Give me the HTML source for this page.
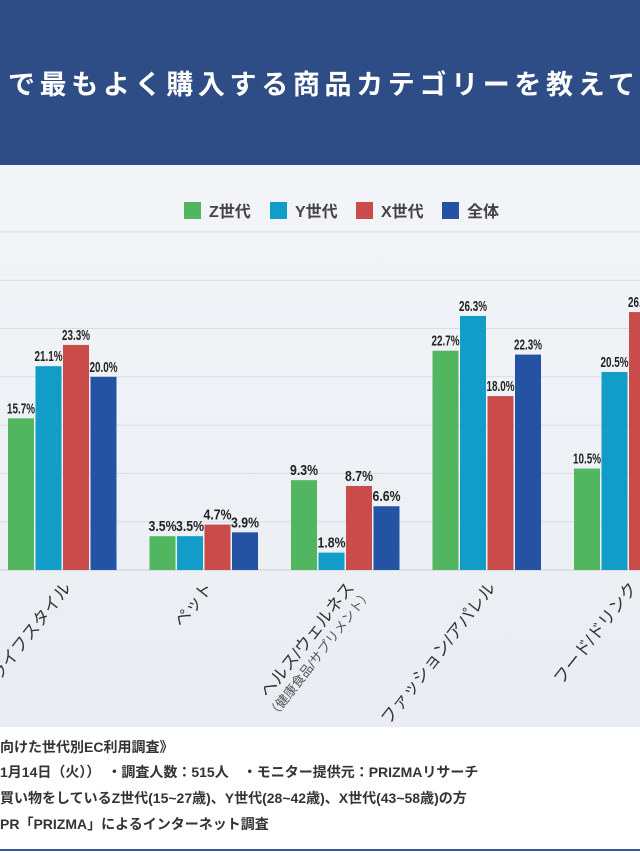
<!DOCTYPE html>
<html><head><meta charset="utf-8"><style>
html,body{margin:0;padding:0;width:640px;height:853px;overflow:hidden;background:#fff;font-family:"Liberation Sans","Noto Sans CJK JP",sans-serif}
</style></head><body>
<svg width="640" height="853" viewBox="0 0 640 853" xmlns="http://www.w3.org/2000/svg">
<defs><linearGradient id="bg" x1="0" y1="0" x2="0" y2="1"><stop offset="0" stop-color="#f3f5f8"/><stop offset="1" stop-color="#e9edf3"/></linearGradient></defs>
<rect x="0" y="0" width="640" height="165" fill="#2e4c85"/>
<text x="8" y="94" fill="#fff" font-size="27" font-weight="bold" textLength="627" lengthAdjust="spacing" font-family="'Liberation Sans','Noto Sans CJK JP',sans-serif">で最もよく購入する商品カテゴリーを教えて</text>
<rect x="0" y="165" width="640" height="562" fill="url(#bg)"/>
<g id="grid"></g>
<g id="legend"></g>
<g id="bars"></g>
<g id="xlabels"></g>
<g font-size="14" font-weight="bold" fill="#333" font-family="'Liberation Sans','Noto Sans CJK JP',sans-serif">
<text x="0" y="752">向けた世代別EC利用調査》</text>
<text x="0" y="777">1月14日（火））　・調査人数：515人　・モニター提供元：PRIZMAリサーチ</text>
<text x="0" y="803">買い物をしているZ世代(15~27歳)、Y世代(28~42歳)、X世代(43~58歳)の方</text>
<text x="0" y="829">PR「PRIZMA」によるインターネット調査</text>
</g>
<rect x="0" y="849" width="640" height="2" fill="#2e5a9e"/>
</svg>
<script>
const categories = ["ライフスタイル","ペット","ヘルス/ウェルネス","ファッション/アパレル","フード/ドリンク"];
const seriesNames = ["Z世代","Y世代","X世代","全体"];
const zValues = [15.7, 3.5, 9.3, 22.7, 10.5];
const yValues = [21.1, 3.5, 1.8, 26.3, 20.5];
const xValues = [23.3, 4.7, 8.7, 18.0, 26.7];
const allValues = [20.0, 3.9, 6.6, 22.3, 20.0];
const gridTicks = [0, 5, 10, 15, 20, 25, 30, 35];

const colors = ["#52b560","#129dc8","#c94b4a","#2553a3"];
const series = [zValues, yValues, xValues, allValues];
const NS = "http://www.w3.org/2000/svg";
const y = v => 570 - v * 9.66;
const xc = i => 62 + i * 141.5;
function mk(tag, attrs, parent){const e=document.createElementNS(NS,tag);for(const k in attrs)e.setAttribute(k,attrs[k]);parent.appendChild(e);return e;}

const grid = document.getElementById('grid');
gridTicks.forEach(t=>{
  const l = mk('line',{x1:0,x2:640,y1:y(t),y2:y(t),stroke:t===0?'#c9ced6':'#d9dde3','stroke-width':1},grid);
  
  
});

const lg = document.getElementById('legend');
const lx = [184, 270, 356, 442];
seriesNames.forEach((n,i)=>{
  const r = mk('rect',{x:lx[i],y:202,width:17,height:17,fill:colors[i]},lg);
  
  
  const t = mk('text',{x:lx[i]+25,y:217,'font-size':16,'font-weight':'bold',fill:'#444','font-family':"'Liberation Sans','Noto Sans CJK JP',sans-serif"},lg);
  t.textContent = n;
  
  
});

const bars = document.getElementById('bars');
categories.forEach((c,ci)=>{
  series.forEach((s,si)=>{
    const v = s[ci];
    const bx = xc(ci) - 54 + si*27.5;
    const r = mk('rect',{x:bx,y:y(v),width:26,height:570-y(v),fill:colors[si]},bars);
    
    
    const t = mk('text',{x:bx+13,y:y(v)-5,'text-anchor':'middle','font-size':14.5,'font-weight':'bold',fill:'#222',textLength:28,lengthAdjust:'spacingAndGlyphs','font-family':"'Liberation Sans',sans-serif"},bars);
    t.textContent = v.toFixed(1)+'%';
    
    
  });
  const xl = document.getElementById('xlabels');
  const ax = xc(ci)+10, ay = 588;
  const t = mk('text',{x:ax,y:ay,'text-anchor':'end','font-size':17,fill:'#333',transform:`rotate(-52 ${ax} ${ay})`,'font-family':"'Liberation Sans','Noto Sans CJK JP',sans-serif"},xl);
  t.textContent = c;
  
  
  if(ci===2){
    const s = mk('text',{x:ax+6,y:ay+17,'text-anchor':'end','font-size':13,fill:'#555',transform:`rotate(-52 ${ax} ${ay})`,'font-family':"'Liberation Sans','Noto Sans CJK JP',sans-serif"},xl);
    s.textContent = '（健康食品/サプリメント）';
    
    
  }
});
</script>
</body></html>
